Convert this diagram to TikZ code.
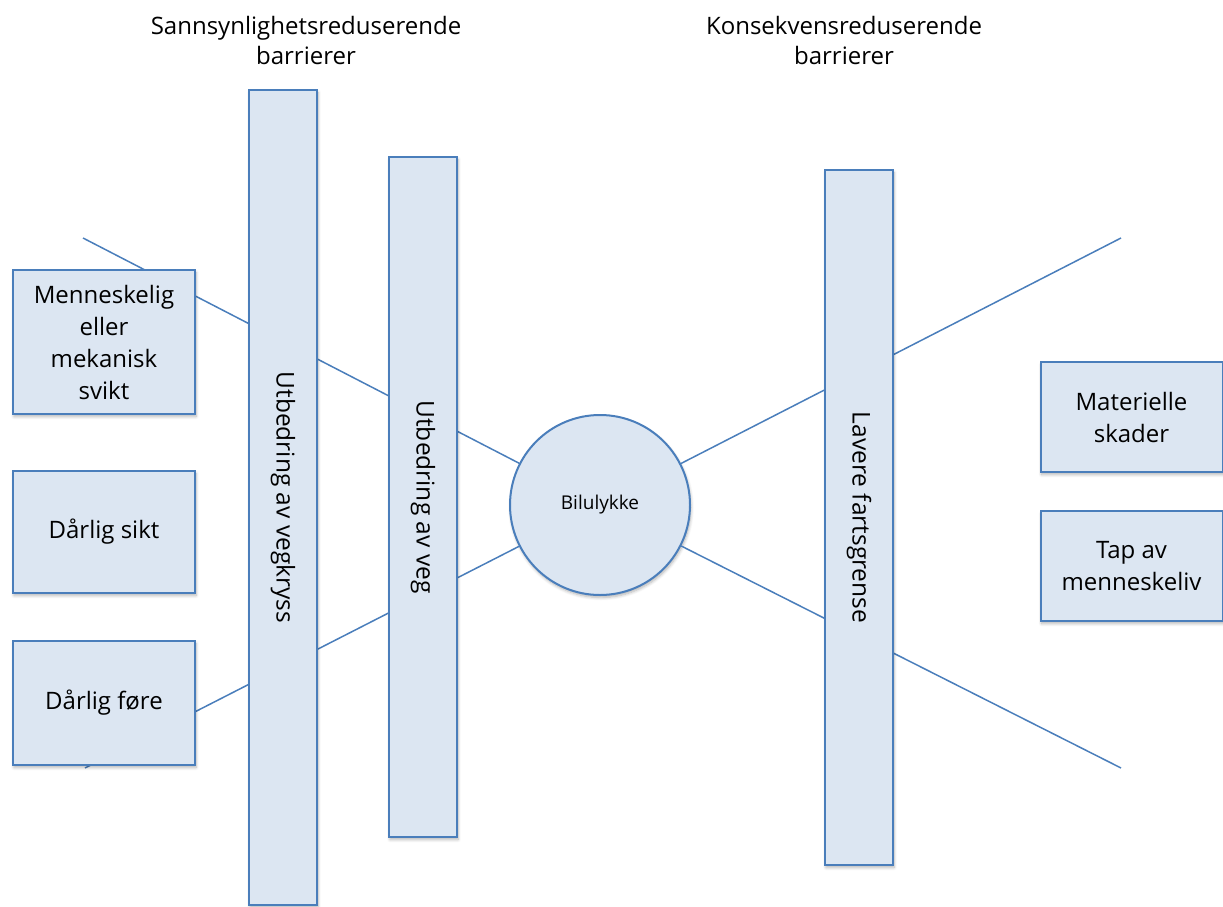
\documentclass[tikz,border=0pt]{standalone}
\usepackage{fontspec}
\setmainfont{Open Sans}
\usetikzlibrary{shadows.blur}
\definecolor{barfill}{HTML}{DCE6F2}
\definecolor{barline}{HTML}{4A7EBB}
\tikzset{
  x=1pt, y=-1pt,
  softshadow/.style={blur shadow={shadow xshift=1pt, shadow yshift=-2.5pt, shadow blur steps=6, shadow opacity=30, shadow blur radius=3pt}},
  cause/.style={draw=barline, line width=2pt, fill=barfill, softshadow, minimum width=182pt,
    align=center, inner sep=0pt, font=\fontsize{24}{32}\selectfont},
  barrier/.style={draw=barline, line width=2pt, fill=barfill, softshadow, minimum width=68pt, inner sep=0pt},
  bartext/.style={rotate=-90, font=\fontsize{24.5}{28}\selectfont},
  event/.style={circle, draw=barline, line width=2pt, fill=barfill, softshadow, minimum size=180pt,
    inner sep=0pt, font=\fontsize{19}{22}\selectfont},
  heading/.style={align=center, font=\fontsize{24}{30}\selectfont},
  path/.style={draw=barline, line width=1.5pt},
}
\begin{document}
\begin{tikzpicture}
\useasboundingbox (0,0) rectangle (1223,907);

% top event and the free ends of the bow-tie arms
\node[event] (ulykke) at (600,505) {Bilulykke};
\coordinate (inTop) at (83,238);
\coordinate (inBot) at (85,768);
\coordinate (outTop) at (1121,238);
\coordinate (outBot) at (1121,768);

% bow-tie arms, drawn first so boxes sit on top of them
\draw[path] (inTop) -- (ulykke);
\draw[path] (inBot) -- (ulykke);
\draw[path] (outTop) -- (ulykke);
\draw[path] (outBot) -- (ulykke);

% causes
\node[cause, minimum height=144pt] (svikt) at (104,342) {Menneskelig\\eller\\mekanisk\\svikt};
\node[cause, minimum height=122pt] (sikt) at (104,532) {Dårlig sikt};
\node[cause, minimum height=124pt] (fore) at (104,703) {Dårlig føre};

% barriers
\node[barrier, minimum height=815pt] (kryss) at (283,497.5) {};
\node[bartext] (kryssTxt) at (kryss) {Utbedring av vegkryss};
\node[barrier, minimum height=680pt] (veg) at (423,497) {};
\node[bartext] (vegTxt) at (veg) {Utbedring av veg};
\node[barrier, minimum height=695pt] (fart) at (859,517.5) {};
\node[bartext] (fartTxt) at (fart) {Lavere fartsgrense};

% consequences
\node[cause, minimum height=110pt] (materiell) at (1131.5,417) {Materielle\\skader};
\node[cause, minimum height=110pt] (liv) at (1131.5,566) {Tap av\\menneskeliv};

% headings
\node[heading] (hSann) at (306,40) {Sannsynlighetsreduserende\\barrierer};
\node[heading] (hKons) at (844,40) {Konsekvensreduserende\\barrierer};
\end{tikzpicture}
\end{document}
